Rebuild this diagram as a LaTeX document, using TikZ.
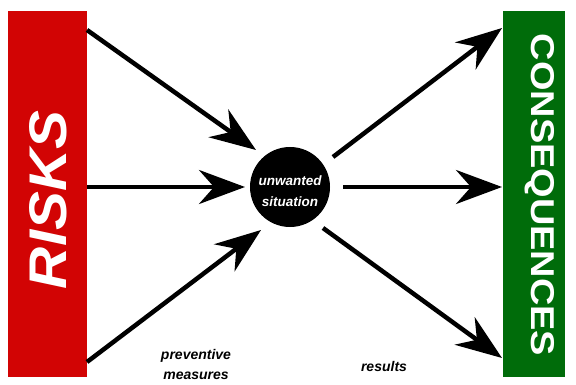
\documentclass[tikz,border=0pt]{standalone}
\usepackage{fontspec}
\setmainfont{Liberation Sans}
\usetikzlibrary{arrows.meta}
\definecolor{riskred}{RGB}{210,4,4}
\definecolor{consgreen}{RGB}{0,108,10}
\begin{document}
\begin{tikzpicture}[x=1pt,y=-1pt,
  arr/.style={line width=4.5pt,-{Stealth[length=46pt,width=34pt,inset=15pt]}},
  bar/.style={draw=none,inner sep=0pt,anchor=north west},
  lbl/.style={font=\fontsize{14}{16}\selectfont\bfseries\itshape,align=center,inner sep=0pt}]
\useasboundingbox (0,0) rectangle (576,385);
\fill[white] (0,0) rectangle (576,385);
% bars
\node[bar,fill=riskred,minimum width=79pt,minimum height=366pt] (riskbar) at (8,11) {};
\node[bar,fill=consgreen,minimum width=62pt,minimum height=366pt] (consbar) at (503,11) {};
\node[rotate=90,text=white,inner sep=0pt,xscale=1.1,font=\fontsize{53}{53}\selectfont\bfseries\itshape] (risks) at (48,200) {RISKS};
\node[rotate=-90,text=white,inner sep=0pt,xscale=1.15,font=\fontsize{33}{33}\selectfont\bfseries] (cons) at (540,195) {CONSEQUENCES};
% centre
\node[circle,fill=black,minimum size=80pt,inner sep=0pt] (sit) at (290,187) {};
\node[text=white,lbl,font=\fontsize{13.5}{21}\selectfont\bfseries\itshape] (sittext) at (290,191) {unwanted\\situation};
% coordinates
\coordinate (r1) at (87,30);
\coordinate (r2) at (87,187);
\coordinate (r3) at (87,362);
\coordinate (t1) at (256,150);
\coordinate (t2) at (245,187);
\coordinate (t3) at (261,230);
\coordinate (c1) at (333,157);
\coordinate (c2) at (343,187);
\coordinate (c3) at (323,228);
\coordinate (e1) at (502,28);
\coordinate (e2) at (502,187);
\coordinate (e3) at (502,358);
\draw[arr] (r1) -- (t1);
\draw[arr] (r2) -- (t2);
\draw[arr] (r3) -- (t3);
\draw[arr] (c1) -- (e1);
\draw[arr] (c2) -- (e2);
\draw[arr] (c3) -- (e3);
% labels
\node[lbl,font=\fontsize{14}{20}\selectfont\bfseries\itshape] (prev) at (196,364) {preventive\\measures};
\node[lbl] (res) at (384,366) {results};
\end{tikzpicture}
\end{document}
